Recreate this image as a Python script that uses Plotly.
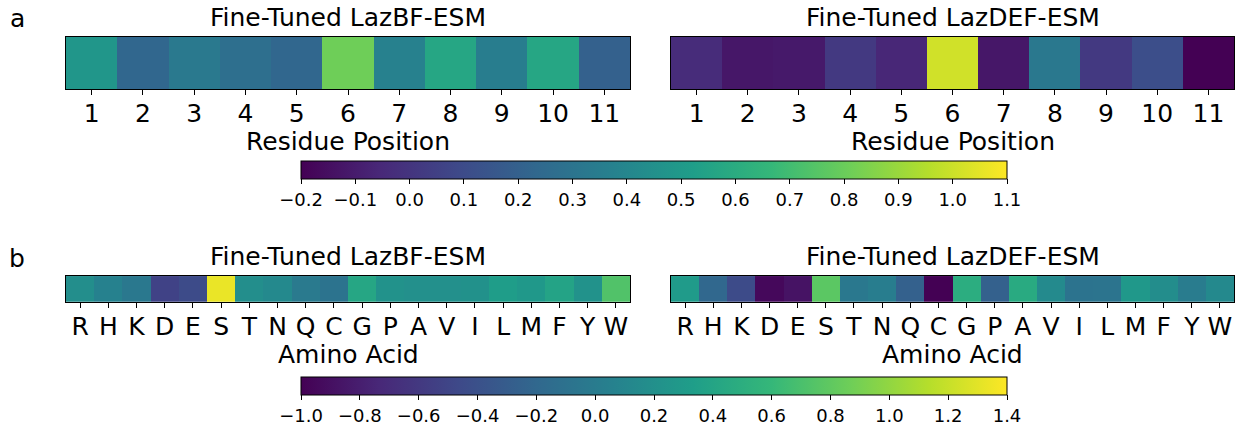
import plotly.graph_objects as go

W, H = 1236, 427

# Per-position scores (row a) and per-amino-acid scores (row b)
positions = [str(i) for i in range(1, 12)]
pos_lazbf = [0.48, 0.23, 0.33, 0.27, 0.23, 0.81, 0.37, 0.57, 0.35, 0.57, 0.20]
pos_lazdef = [-0.04, -0.12, -0.11, 0.02, -0.06, 1.01, -0.12, 0.32, 0.02, 0.11, -0.20]

amino_acids = ["R", "H", "K", "D", "E", "S", "T", "N", "Q", "C",
               "G", "P", "A", "V", "I", "L", "M", "F", "Y", "W"]
aa_lazbf = [0.18, 0.06, -0.04, -0.52, -0.45, 1.33, 0.18, 0.13, -0.02, -0.09,
            0.42, 0.22, 0.20, 0.20, 0.21, 0.32, 0.28, 0.39, 0.22, 0.73]
aa_lazdef = [0.30, -0.20, -0.45, -0.95, -0.88, 0.78, -0.04, 0.02, -0.26, -1.00,
             0.49, -0.26, 0.46, 0.14, -0.09, -0.08, 0.28, 0.17, 0.00, 0.13]

panel_titles = ["Fine-Tuned LazBF-ESM", "Fine-Tuned LazDEF-ESM"]
range_a = (-0.2, 1.1)
range_b = (-1.0, 1.4)
ticks_a = [round(-0.2 + 0.1 * i, 1) for i in range(14)]
ticks_b = [round(-1.0 + 0.2 * i, 1) for i in range(13)]

FONT = "DejaVu Sans"
BIG = 25
CB_SIZE = 18


def px_x(x):
    return x / W


def px_y(y):
    return 1 - y / H


def label(text, x, y, size=BIG, yanchor="middle"):
    fig.add_annotation(
        text=text, x=px_x(x), y=px_y(y),
        xref="paper", yref="paper",
        xanchor="center", yanchor=yanchor,
        showarrow=False,
        font=dict(family=FONT, size=size, color="black"),
    )


def colorbar(ticks, top):
    return dict(
        orientation="h",
        x=px_x((301 + 1007) / 2), xanchor="center",
        y=px_y(top), yanchor="top",
        len=706 / W, lenmode="fraction",
        thickness=18, thicknessmode="pixels",
        xpad=0, ypad=0,
        outlinecolor="black", outlinewidth=1,
        tickmode="array",
        tickvals=ticks,
        ticktext=[("−" if t < 0 else "") + f"{abs(t):.1f}" for t in ticks],
        ticks="outside", ticklen=5, tickcolor="black",
        tickfont=dict(family=FONT, size=CB_SIZE, color="black"),
    )


fig = go.Figure()

panels = [
    # (axis id, colour axis, x0, x1, y_top, y_bot, labels, values, axis title, title y)
    ("", "coloraxis", 66, 630, 37, 90, positions, pos_lazbf, "Residue Position", 142),
    ("2", "coloraxis", 671, 1234, 37, 90, positions, pos_lazdef, "Residue Position", 142),
    ("3", "coloraxis2", 66, 630, 278, 304, amino_acids, aa_lazbf, "Amino Acid", 357),
    ("4", "coloraxis2", 671, 1234, 278, 304, amino_acids, aa_lazdef, "Amino Acid", 357),
]

for k, (ax, cax, x0, x1, yt, yb, labels, vals, xtitle, ty) in enumerate(panels):
    fig.add_trace(go.Heatmap(
        z=[vals],
        x=list(range(len(labels))),
        y=[0],
        coloraxis=cax,
        xaxis="x" + ax, yaxis="y" + ax,
        hoverinfo="skip",
    ))

    fig.layout["xaxis" + ax] = dict(
        domain=[px_x(x0), px_x(x1)],
        anchor="y" + ax,
        range=[-0.5, len(labels) - 0.5],
        tickvals=list(range(len(labels))),
        ticktext=labels,
        ticks="outside", ticklen=5, tickcolor="black",
        ticklabelstandoff=-3,
        tickfont=dict(family=FONT, size=BIG, color="black"),
        showline=True, mirror=True, linecolor="black", linewidth=1,
        showgrid=False, zeroline=False,
    )
    fig.layout["yaxis" + ax] = dict(
        domain=[px_y(yb), px_y(yt)],
        anchor="x" + ax,
        range=[-0.5, 0.5],
        showticklabels=False, ticks="",
        showline=True, mirror=True, linecolor="black", linewidth=1,
        showgrid=False, zeroline=False,
    )

    label(panel_titles[k % 2], (x0 + x1) / 2, yt - 3, yanchor="bottom")
    label(xtitle, (x0 + x1) / 2, ty)

label("a", 17, 19)
label("b", 17, 260)

fig.update_layout(
    width=W, height=H,
    margin=dict(l=0, r=0, t=0, b=0),
    paper_bgcolor="white", plot_bgcolor="white",
    showlegend=False,
    coloraxis=dict(colorscale="Viridis", cmin=range_a[0], cmax=range_a[1],
                   colorbar=colorbar(ticks_a, 162)),
    coloraxis2=dict(colorscale="Viridis", cmin=range_b[0], cmax=range_b[1],
                    colorbar=colorbar(ticks_b, 380)),
)

fig.write_html("out.html")
